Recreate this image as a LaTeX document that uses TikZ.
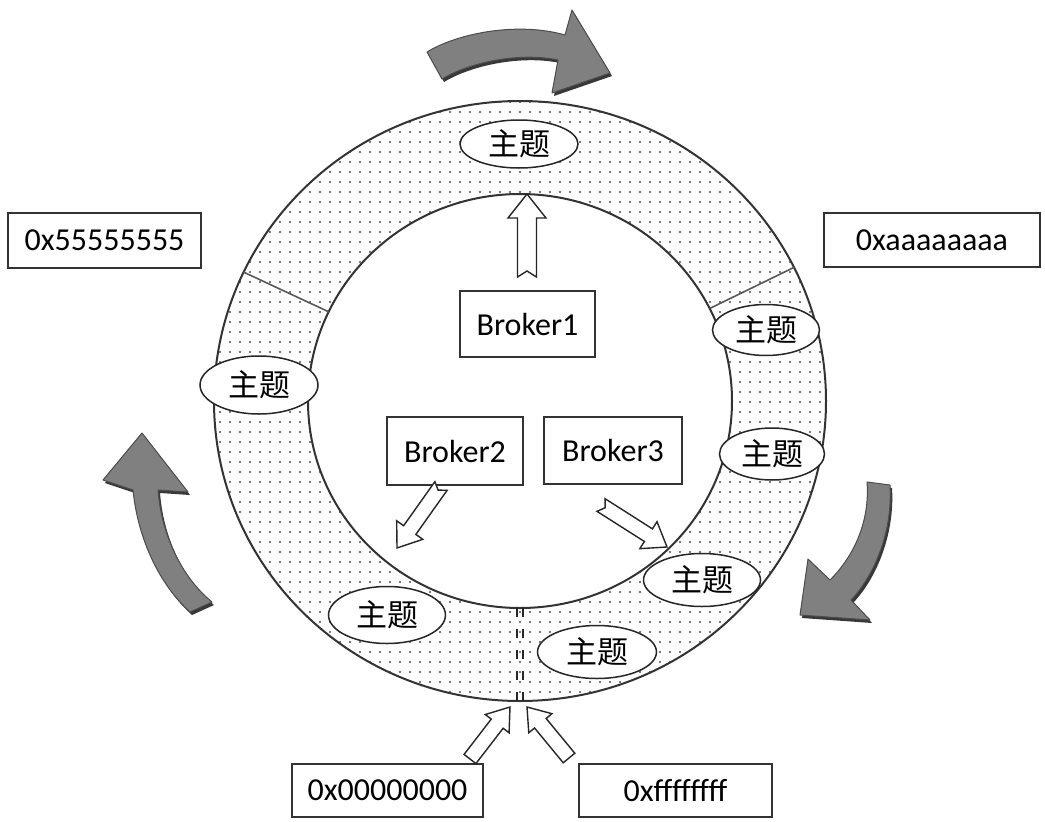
\documentclass[tikz,border=0pt]{standalone}
\usepackage{fontspec}
\setmainfont{Carlito}
\newfontfamily\cjk{Noto Sans CJK SC}
\usetikzlibrary{shapes.geometric,patterns.meta,calc}

\tikzset{
  hexlbl/.style={draw=black!80, line width=1.6pt, fill=white, inner sep=0pt,
    font=\fontsize{32}{32}\selectfont},
  brokerbox/.style={draw=black!80, line width=1.4pt, fill=white, inner sep=0pt,
    minimum width=135pt, minimum height=66pt, font=\fontsize{32}{32}\selectfont},
  topic/.style={ellipse, draw=black!85, line width=1.5pt, fill=white, inner sep=0pt,
    minimum width=117pt, minimum height=53pt, font=\cjk\fontsize{31}{31}\selectfont},
  ringline/.style={draw=black!80, line width=2pt},
  sepline/.style={draw=black!65, line width=1.6pt},
  ringdash/.style={draw=black!85, line width=1.8pt, dash pattern=on 9pt off 12pt},
  grayarrow/.style={fill=black!50, draw=black!70, line width=1pt, line join=round},
  grayshadow/.style={fill=black!78},
  hollow/.style={draw=black!85, line width=1.4pt, fill=white, line join=miter},
  shapeanchor/.style={ellipse, inner sep=0pt, draw=none},
}

% hollow block arrow: #1 tail coordinate, #2 tip coordinate,
% #3 shaft half width, #4 head half width, #5 head length, #6 tail notch
\newcommand\hollowarr[6]{%
  \pgfmathanglebetweenpoints{\pgfpointanchor{#1}{center}}{\pgfpointanchor{#2}{center}}%
  \let\haang\pgfmathresult
  \pgfpointdiff{\pgfpointanchor{#1}{center}}{\pgfpointanchor{#2}{center}}%
  \pgfgetlastxy\hadx\hady
  \pgfmathsetmacro\halen{veclen(\hadx,\hady)}%
  \begin{scope}[shift={(#1)}, rotate=\haang]
    \path[hollow] (0,#3) -- ({\halen-#5},#3) -- ({\halen-#5},#4) -- (\halen,0)
      -- ({\halen-#5},-#4) -- ({\halen-#5},-#3) -- (0,-#3) -- (#6,0) -- cycle;
  \end{scope}%
}

\begin{document}
\begin{tikzpicture}[x=1pt,y=-1pt]
\useasboundingbox[fill=white] (0,0) rectangle (1045,822);

% ring
\node[shapeanchor, minimum width=612pt, minimum height=600pt] (outer) at (520,401) {};
\node[shapeanchor, minimum width=424pt, minimum height=414pt] (inner) at (520,401) {};
\path[pattern={Dots[distance=10pt, radius=1.1pt]}, pattern color=black!70, even odd rule]
  (520,401) ellipse [x radius=306, y radius=300]
  (520,401) ellipse [x radius=212, y radius=207];
\draw[ringline] (520,401) ellipse [x radius=306, y radius=300];
\draw[ringline] (520,401) ellipse [x radius=212, y radius=207];

% segment separators
\draw[sepline] (outer.155) -- (inner.155);
\draw[sepline] (outer.26) -- (inner.26);

% zero point marks
\draw[ringdash] ($(inner.south)+(-3,0)$) -- ($(outer.south)+(-3,0)$);
\draw[ringdash] ($(inner.south)+(3,0)$) -- ($(outer.south)+(3,0)$);

% topics
\node[topic, minimum width=118pt, minimum height=48pt] (t1) at (519,144) {主题};
\node[topic, minimum width=107pt, minimum height=51pt] (t2) at (766,330) {主题};
\node[topic, minimum width=105pt, minimum height=52pt] (t3) at (772,454) {主题};
\node[topic] (t4) at (702,580) {主题};
\node[topic, minimum width=119pt] (t5) at (597,652) {主题};
\node[topic, minimum height=57pt] (t6) at (387,615) {主题};
\node[topic, minimum width=118pt, minimum height=58pt] (t7) at (259,385) {主题};

% brokers
\node[brokerbox] (b1) at (527.5,324) {Broker1};
\node[brokerbox, minimum width=136pt, minimum height=68pt] (b2) at (455,451) {Broker2};
\node[brokerbox, minimum width=138pt, minimum height=67pt] (b3) at (613,450.5) {Broker3};

% hex labels
\node[hexlbl, minimum width=193pt, minimum height=55pt] (l55) at (104.5,240.5) {0x55555555};
\node[hexlbl, minimum width=216pt, minimum height=54pt] (laa) at (932,240) {0xaaaaaaaa};
\node[hexlbl, minimum width=191pt, minimum height=53pt] (l00) at (387.5,790.5) {0x00000000};
\node[hexlbl, minimum width=193pt, minimum height=53pt] (lff) at (675.5,790.5) {0xffffffff};

% hollow arrows
\coordinate (a1s) at (527,277);  \coordinate (a1e) at (527,194);
\coordinate (a2s) at (441,486);  \coordinate (a2e) at (397,548);
\coordinate (a3s) at (601,505);  \coordinate (a3e) at (667,547);
\coordinate (a4s) at (470,759);  \coordinate (a4e) at (510,707);
\coordinate (a5s) at (569,758);  \coordinate (a5e) at (527,707);
\hollowarr{a1s}{a1e}{9.5}{19}{24}{6}
\hollowarr{a2s}{a2e}{7.5}{16}{22}{5}
\hollowarr{a3s}{a3e}{7.5}{16}{22}{5}
\hollowarr{a4s}{a4e}{7.5}{15}{21}{0}
\hollowarr{a5s}{a5e}{7.5}{15}{21}{0}

% gray rotation arrows
\begin{scope}[shift={(2,3)}]
\fill[grayshadow] (427,52) .. controls (460,32) and (520,22) .. (565,35) -- (572,10)
  -- (610,73) -- (552,93) -- (558,60) .. controls (520,52) and (470,62) .. (442,79) -- cycle;
\fill[grayshadow] (867,482) -- (890,485) .. controls (893,530) and (875,575) .. (851,600)
  -- (870,620) -- (800,615) -- (808,559) -- (830,580) .. controls (855,555) and (870,520) .. (867,482) -- cycle;
\fill[grayshadow] (142,433) -- (188,492) -- (158,490) .. controls (162,540) and (185,580) .. (212,602)
  -- (190,612) .. controls (160,585) and (138,540) .. (133,490) -- (103,480) -- cycle;
\end{scope}
\path[grayarrow] (427,52) .. controls (460,32) and (520,22) .. (565,35) -- (572,10)
  -- (610,73) -- (552,93) -- (558,60) .. controls (520,52) and (470,62) .. (442,79) -- cycle;
\path[grayarrow] (867,482) -- (890,485) .. controls (893,530) and (875,575) .. (851,600)
  -- (870,620) -- (800,615) -- (808,559) -- (830,580) .. controls (855,555) and (870,520) .. (867,482) -- cycle;
\path[grayarrow] (142,433) -- (188,492) -- (158,490) .. controls (162,540) and (185,580) .. (212,602)
  -- (190,612) .. controls (160,585) and (138,540) .. (133,490) -- (103,480) -- cycle;
\end{tikzpicture}
\end{document}
